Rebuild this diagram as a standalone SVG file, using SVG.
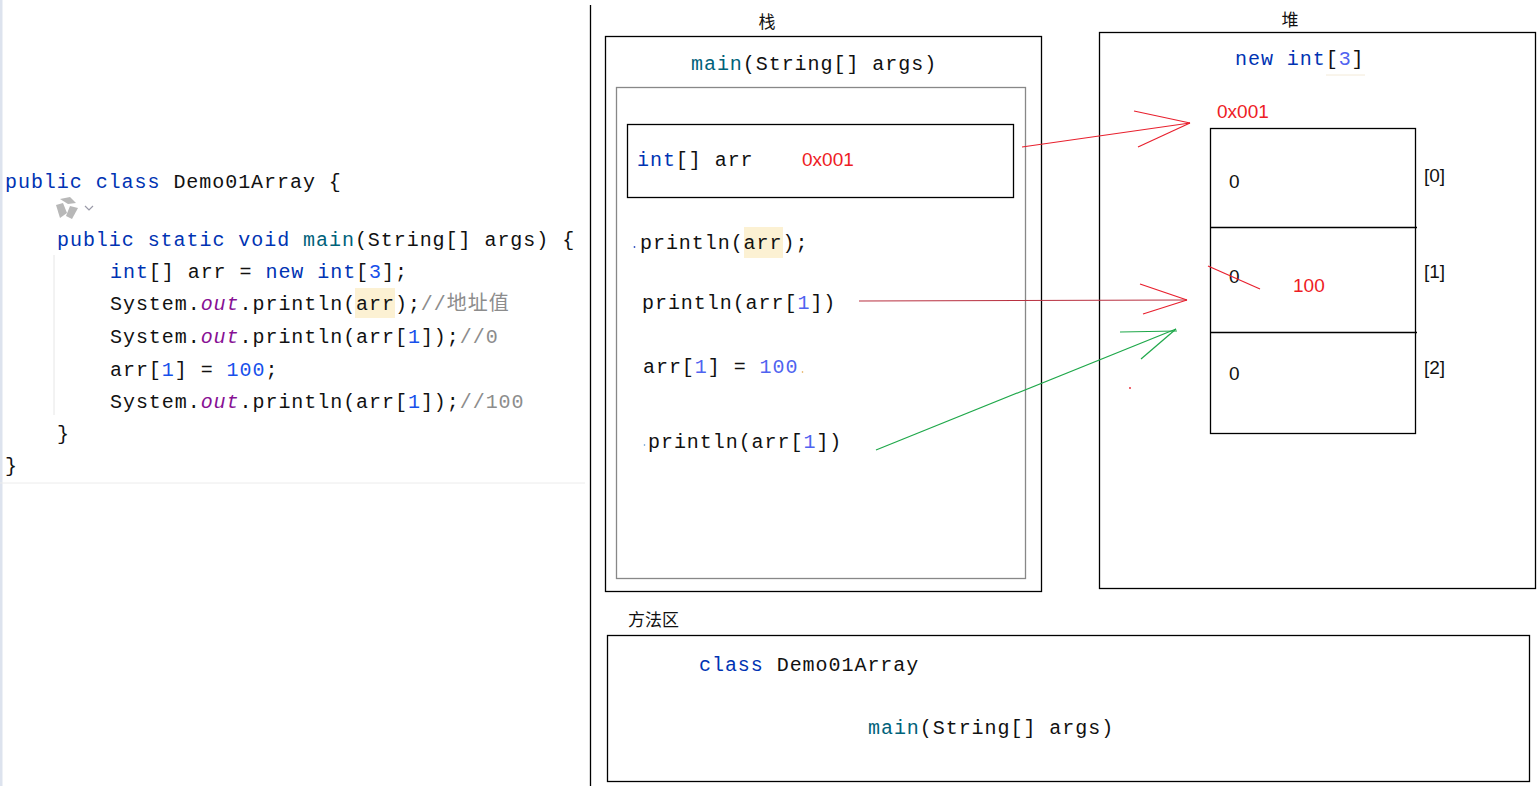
<svg xmlns="http://www.w3.org/2000/svg" width="1540" height="786" viewBox="0 0 1540 786">
<style>
.code{font-family:"Liberation Mono","DejaVu Sans Mono","Noto Sans CJK SC",monospace;font-size:20px;letter-spacing:0.95px;fill:#111}
.kw{fill:#0033b3}
.fn{fill:#00627a}
.out{fill:#871094;font-style:italic}
.num{fill:#1750eb}
.num2{fill:#4f63f0}
.cm{fill:#8c8c8c}
.sans{font-family:"Liberation Sans",Arial,sans-serif;font-size:19px;fill:#111}
.red{fill:#ee1c25}
.cjk{font-family:"Noto Sans CJK SC","Noto Sans CJK JP",sans-serif;font-size:17px;fill:#111}
.box{fill:none;stroke:#000;stroke-width:1.3}
.gbox{fill:none;stroke:#888;stroke-width:1.3}
.hl{fill:#fcf1d3}
.rl{stroke:#e8202e;stroke-width:1.2;fill:none}
.gl{stroke:#1fa84a;stroke-width:1.2;fill:none}
</style>
<rect x="0" y="0" width="1540" height="786" fill="#fff"/>
<g id="editor">
  <rect x="0" y="0" width="2.5" height="786" fill="#dde3ee"/>
  <line x1="0" y1="483" x2="585" y2="483" stroke="#ececec" stroke-width="1"/>
  <line x1="54" y1="255" x2="54" y2="415" stroke="#e6e6e6" stroke-width="1"/>
  <rect class="hl" x="355" y="288" width="40" height="30"/>
  <g id="gutter-icon" fill="#b8b8b8">
    <polygon points="60,199 70,197 76,203 68,204"/>
    <polygon points="56,205 63,203 67,213 60,218"/>
    <polygon points="70,206 78,208 72,219 66,216"/>
    <polyline points="85,206 89,210 93,206" fill="none" stroke="#9a9aa8" stroke-width="1.2"/>
  </g>
  <text class="code" x="5" y="188"><tspan class="kw">public class</tspan> Demo01Array {</text>
  <text class="code" x="57" y="246"><tspan class="kw">public static void</tspan> <tspan class="fn">main</tspan>(String[] args) {</text>
  <text class="code" x="110" y="278"><tspan class="kw">int</tspan>[] arr = <tspan class="kw">new int</tspan>[<tspan class="num">3</tspan>];</text>
  <text class="code" x="110" y="310">System.<tspan class="out">out</tspan>.println(arr);<tspan class="cm">//地址值</tspan></text>
  <text class="code" x="110" y="343">System.<tspan class="out">out</tspan>.println(arr[<tspan class="num">1</tspan>]);<tspan class="cm">//0</tspan></text>
  <text class="code" x="110" y="376">arr[<tspan class="num">1</tspan>] = <tspan class="num">100</tspan>;</text>
  <text class="code" x="110" y="408">System.<tspan class="out">out</tspan>.println(arr[<tspan class="num">1</tspan>]);<tspan class="cm">//100</tspan></text>
  <text class="code" x="57" y="440">}</text>
  <text class="code" x="5" y="472">}</text>
</g>
<line x1="590.5" y1="5" x2="590.5" y2="786" stroke="#000" stroke-width="1.3"/>
<g id="stack">
  <text class="cjk" x="767" y="28" text-anchor="middle">栈</text>
  <rect class="box" x="605.5" y="36.5" width="436" height="555"/>
  <text class="code" x="691" y="70"><tspan class="fn">main</tspan>(String[] args)</text>
  <rect class="gbox" x="616.5" y="87.5" width="409" height="491"/>
</g>
<g id="stack-arr">
  <rect class="box" x="627.5" y="124.5" width="386" height="73"/>
  <text class="code" x="637" y="166"><tspan class="kw">int</tspan>[] arr</text>
  <text class="sans red" x="802" y="166">0x001</text>
</g>
<g id="stack-stmts">
  <rect class="hl" x="744" y="227" width="39" height="31"/>
  <circle cx="634.5" cy="247" r="0.9" fill="#3050c0"/>
  <text class="code" x="640" y="249">println(arr);</text>
  <text class="code" x="642" y="309">println(arr[<tspan class="num2">1</tspan>])</text>
  <text class="code" x="643" y="373">arr[<tspan class="num2">1</tspan>] = <tspan class="num2">100</tspan></text>
  <circle cx="802.5" cy="372" r="0.8" fill="#e0a040"/>
  <circle cx="644.5" cy="445" r="0.8" fill="#5090d0"/>
  <text class="code" x="648" y="448">println(arr[<tspan class="num2">1</tspan>])</text>
</g>
<g id="heap">
  <text class="cjk" x="1290" y="26" text-anchor="middle">堆</text>
  <rect class="box" x="1099.5" y="32.5" width="436" height="556"/>
  <text class="code" x="1235" y="65"><tspan class="kw">new int</tspan>[<tspan class="num2">3</tspan>]</text>
  <line x1="1326" y1="75" x2="1365" y2="75" stroke="#f3ead8" stroke-width="1"/>
  <text class="sans red" x="1217" y="118">0x001</text>
</g>
<g id="heap-array">
  <rect class="box" x="1210.5" y="128.5" width="205" height="305"/>
  <line x1="1210" y1="227.5" x2="1417" y2="227.5" stroke="#000" stroke-width="1.3"/>
  <line x1="1210" y1="332.5" x2="1417" y2="332.5" stroke="#000" stroke-width="1.3"/>
  <text class="sans" x="1229" y="188" font-size="18">0</text>
  <text class="sans" x="1229" y="283" font-size="18">0</text>
  <text class="sans" x="1229" y="380" font-size="18">0</text>
  <text class="sans" x="1424" y="182" font-size="18">[0]</text>
  <text class="sans" x="1424" y="278" font-size="18">[1]</text>
  <text class="sans" x="1424" y="374" font-size="18">[2]</text>
  <text class="sans red" x="1293" y="292">100</text>
  <line class="rl" x1="1208" y1="266" x2="1260" y2="289"/>
</g>
<g id="connectors">
  <line class="rl" x1="1022" y1="147" x2="1190" y2="123"/>
  <line class="rl" x1="1134" y1="111" x2="1190" y2="123"/>
  <line class="rl" x1="1138" y1="147" x2="1190" y2="123"/>
  <line x1="859" y1="301" x2="1187" y2="300" stroke="#b83040" stroke-width="1.1"/>
  <line class="rl" x1="1140" y1="284" x2="1187" y2="300"/>
  <line class="rl" x1="1143" y1="314" x2="1187" y2="300"/>
  <line class="gl" x1="876" y1="450" x2="1176" y2="329"/>
  <line class="gl" x1="1120" y1="332" x2="1177" y2="331"/>
  <line class="gl" x1="1141" y1="359" x2="1176" y2="329"/>
  <circle cx="1130" cy="388" r="0.9" fill="#e8202e"/>
</g>
<g id="method-area">
  <text class="cjk" x="628" y="626">方法区</text>
  <rect class="box" x="607.5" y="635.5" width="922" height="146"/>
  <text class="code" x="699" y="671"><tspan class="kw">class</tspan> Demo01Array</text>
  <text class="code" x="868" y="734"><tspan class="fn">main</tspan>(String[] args)</text>
</g>
</svg>
